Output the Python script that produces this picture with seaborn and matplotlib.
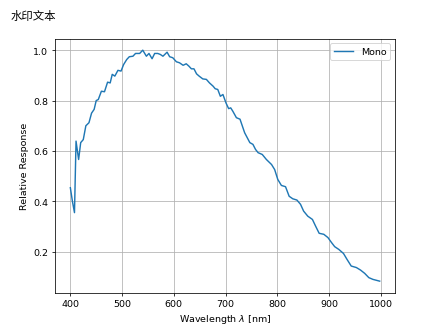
import numpy as np
import seaborn as sns
import matplotlib
matplotlib.use('Agg')
import matplotlib.pyplot as plt

# ── Data ───────────────────────────────────────────────────────────────────────
wavelength = [400, 404, 408, 411, 416, 420, 425, 430, 436, 441, 446, 450, 454,
              460, 466, 472, 477, 481, 486, 492, 498, 503, 509, 514, 521, 526,
              534, 540, 547, 552, 558, 563, 569, 574, 579, 587, 592, 598, 605,
              611, 618, 624, 629, 634, 639, 644, 649, 656, 663, 669, 676, 680,
              685, 690, 695, 701, 706, 710, 714, 721, 728, 737, 747, 753, 758,
              763, 771, 779, 789, 795, 801, 808, 816, 823, 830, 838, 845, 851,
              859, 868, 874, 881, 890, 898, 905, 911, 919, 928, 935, 943, 953,
              961, 969, 977, 985, 998]
response = [0.454, 0.400, 0.355, 0.639, 0.566, 0.633, 0.645, 0.700, 0.712,
            0.750, 0.765, 0.800, 0.804, 0.837, 0.835, 0.873, 0.870, 0.904,
            0.897, 0.920, 0.917, 0.943, 0.963, 0.974, 0.976, 0.987, 0.987,
            1.000, 0.976, 0.987, 0.966, 0.987, 0.987, 0.983, 0.976, 0.992,
            0.974, 0.970, 0.954, 0.950, 0.940, 0.946, 0.937, 0.926, 0.926,
            0.906, 0.897, 0.886, 0.884, 0.870, 0.857, 0.847, 0.844, 0.817,
            0.824, 0.790, 0.768, 0.771, 0.758, 0.732, 0.726, 0.672, 0.633,
            0.626, 0.606, 0.593, 0.586, 0.566, 0.546, 0.526, 0.487, 0.463,
            0.458, 0.420, 0.410, 0.405, 0.388, 0.361, 0.341, 0.328, 0.302,
            0.273, 0.269, 0.256, 0.236, 0.220, 0.209, 0.193, 0.169, 0.143,
            0.137, 0.127, 0.114, 0.097, 0.090, 0.083]
series_label = 'Mono'
watermark = '水印文本'

# ── Plot ───────────────────────────────────────────────────────────────────────
fig, ax = plt.subplots(figsize=(6.4, 4.81))
sns.lineplot(x=np.array(wavelength), y=np.array(response),
             label=series_label, ax=ax)
ax.grid(True)
ax.legend(loc='upper right')
ax.set_xlabel(r'Wavelength $\lambda$ [nm]')
ax.set_ylabel('Relative Response')

fig.text(0.025, 0.951, watermark, fontsize=12, va='center',
         family=['Noto Sans CJK SC', 'DejaVu Sans'])

plt.savefig('out.png', dpi=68.6)
